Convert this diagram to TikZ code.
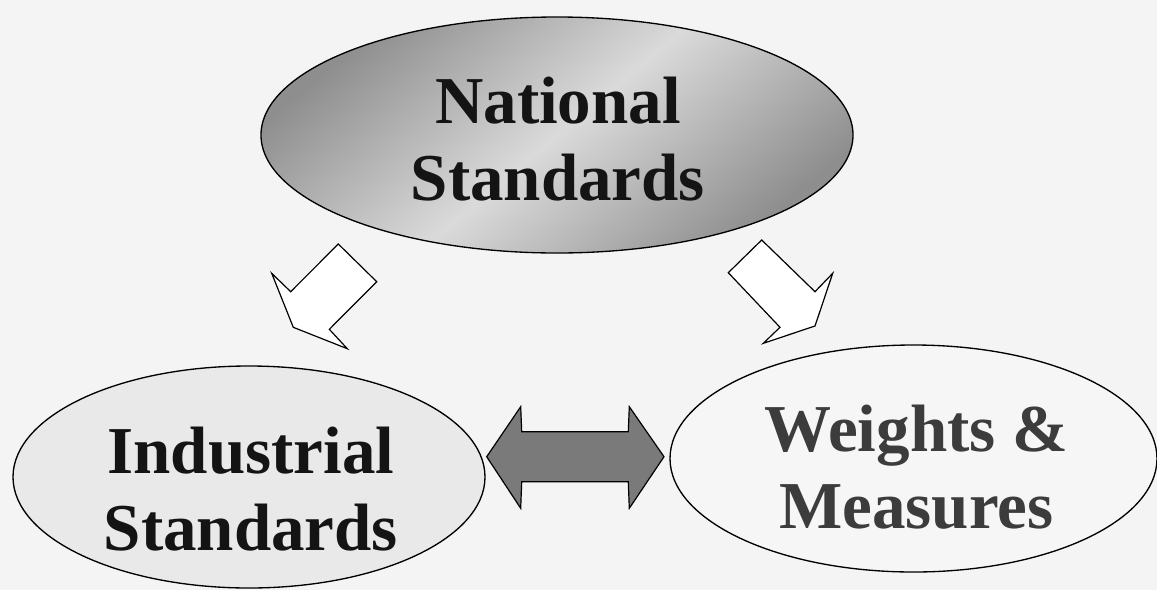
\documentclass[tikz,border=0pt]{standalone}
\usepackage{fontspec}
\setmainfont{Liberation Serif}
\usetikzlibrary{shapes.geometric}
\definecolor{bgc}{HTML}{F4F4F4}
\definecolor{shdark}{HTML}{8E8E8E}
\definecolor{shlight}{HTML}{DADADA}
\definecolor{leftfill}{HTML}{E9E9E9}
\definecolor{rightfill}{HTML}{F6F6F6}
\definecolor{dafill}{HTML}{7A7A7A}
\definecolor{wmtext}{HTML}{3C3C3C}
\tikzset{
  oval/.style={ellipse, draw=black, line width=1pt, inner sep=0pt, outer sep=0pt},
  lbl/.style={align=center, inner sep=0pt, font=\fontsize{50.25}{57.75}\selectfont\bfseries},
  blockarrow/.style={draw=black, line width=0.9pt, line join=miter, fill=white},
}
\begin{document}
\begin{tikzpicture}[x=0.75pt, y=-0.75pt]
\path[use as bounding box, fill=bgc] (0,0) rectangle (1157,590);
% ellipses
\node[oval, minimum width=444pt, minimum height=177pt,
      top color=shdark, bottom color=shdark, middle color=shlight, shading angle=40]
      (nat) at (557,135) {};
\node[oval, fill=leftfill, minimum width=354pt, minimum height=166.5pt] (ind) at (249,477) {};
\node[oval, fill=rightfill, minimum width=365.25pt, minimum height=170.25pt] (wm) at (913.5,458.5) {};
% labels
\node[lbl, text=black!92] (natt) at (558,139) {National\\Standards};
\node[lbl, text=black!92] (indt) at (251,489) {Industrial\\Standards};
\node[lbl, text=wmtext] (wmt) at (916.5,467.5) {Weights \&\\Measures};
% block arrows
\draw[blockarrow] (338.3,244) -- (376.7,281.7) -- (329.3,329.3) -- (347.3,348.7)
   -- (293.3,327.3) -- (271.7,273.3) -- (290.7,291.7) -- cycle;
\draw[blockarrow] (761.7,240) -- (728.3,272.7) -- (780,327.3) -- (763.3,343.3)
   -- (815,326) -- (832.7,273.3) -- (815,291.7) -- cycle;
\draw[blockarrow, fill=dafill] (486.7,456.7) -- (520.7,406.7) -- (521.7,431.7) -- (628.3,431.7)
   -- (629.3,406.7) -- (664,456.7) -- (629.3,508.3) -- (628.3,481.7) -- (521.7,481.7)
   -- (520.7,508.3) -- cycle;
\end{tikzpicture}
\end{document}
